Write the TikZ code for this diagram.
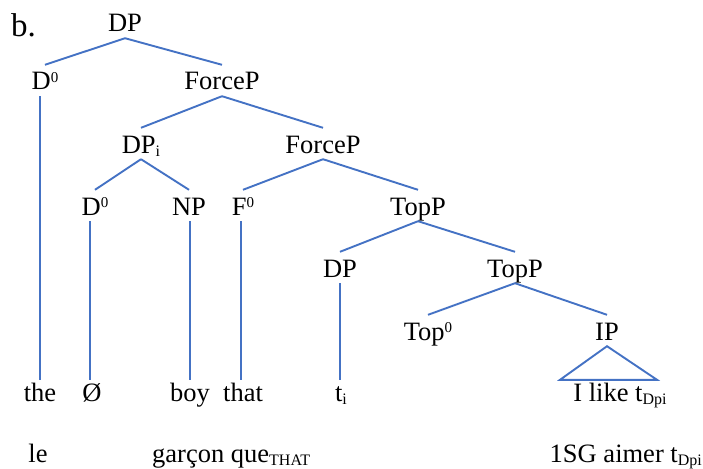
\documentclass[tikz,border=0pt]{standalone}
\usepackage{fontspec}
\setmainfont{Liberation Serif}
\usetikzlibrary{calc}
\definecolor{treeblue}{RGB}{68,114,196}
\newcommand\supz[1]{\raisebox{7.5pt}{\fontsize{15}{15}\selectfont #1}}
\newcommand\subz[1]{\raisebox{-3pt}{\fontsize{16}{16}\selectfont #1}}
\begin{document}
\begin{tikzpicture}[x=1pt,y=-1pt,
  lab/.style={anchor=base, inner sep=0pt, font=\fontsize{26.5}{30}\selectfont, text height=25pt, text depth=6pt},
  word/.style={anchor=base, inner sep=0pt, font=\fontsize{26.5}{30}\selectfont, text height=21pt, text depth=6pt},
  gloss/.style={inner sep=0pt, font=\fontsize{26.5}{30}\selectfont},
  branch/.style={draw=treeblue, line width=1.9pt}]
\useasboundingbox (0,0) rectangle (703,468);
\node[anchor=base west, inner sep=0pt, font=\fontsize{33}{36}\selectfont] (b) at (11,37) {b.};
% nonterminals
\node[lab] (dp) at (125,32) {DP};
\node[lab] (d0a) at (45,90) {D\supz{0}};
\node[lab] (fp1) at (222,90) {ForceP};
\node[lab] (dpi) at (141,153) {DP\subz{i}};
\node[lab] (fp2) at (323,153) {ForceP};
\node[lab] (d0b) at (95,215) {D\supz{0}};
\node[lab] (np) at (189,215) {NP};
\node[lab] (f0) at (243,215) {F\supz{0}};
\node[lab] (tp1) at (418,215) {TopP};
\node[lab] (dp2) at (340,277) {DP};
\node[lab] (tp2) at (515,277) {TopP};
\node[lab] (top0) at (428,340) {Top\supz{0}};
\node[lab] (ip) at (607,340) {IP};
% words
\node[word] (the) at (40,401) {the};
\node[word] (oslash) at (92,401) {Ø};
\node[word] (boy) at (190,401) {boy};
\node[word] (that) at (243,401) {that};
\node[word] (ti) at (341,401) {t\subz{i}};
\node[word] (ilike) at (620,401) {I like t\subz{Dpi}};
% glosses
\node[gloss, anchor=base] (le) at (38,462) {le};
\node[gloss, anchor=base west] (garcon) at (152,462) {garçon que\subz{THAT}};
\node[gloss, anchor=base east] (aimer) at (702,462) {1SG aimer t\subz{Dpi}};
% branches
\draw[branch] (dp.south) -- (d0a.north);
\draw[branch] (dp.south) -- (fp1.north);
\draw[branch] (fp1.south) -- (dpi.north);
\draw[branch] (fp1.south) -- (fp2.north);
\draw[branch] (dpi.south) -- (d0b.north);
\draw[branch] (dpi.south) -- (np.north);
\draw[branch] (fp2.south) -- (f0.north);
\draw[branch] (fp2.south) -- (tp1.north);
\draw[branch] (tp1.south) -- (dp2.north);
\draw[branch] (tp1.south) -- (tp2.north);
\draw[branch] (tp2.south) -- (top0.north);
\draw[branch] (tp2.south) -- (ip.north);
% unary lines
\draw[branch] (the.north |- d0a.south) -- (the.north);
\draw[branch] ([xshift=-2pt]oslash.north |- d0b.south) -- ([xshift=-2pt]oslash.north);
\draw[branch] (boy.north |- np.south) -- (boy.north);
\draw[branch] ([xshift=-2pt]that.north |- f0.south) -- ([xshift=-2pt]that.north);
\draw[branch] ([xshift=-1pt]ti.north |- dp2.south) -- ([xshift=-1pt]ti.north);
% triangle
\draw[branch, line join=miter] (ip.south) -- ($(ip.south |- ilike.north)+(-47,0)$) -- ($(ip.south |- ilike.north)+(50,0)$) -- cycle;
\end{tikzpicture}
\end{document}
